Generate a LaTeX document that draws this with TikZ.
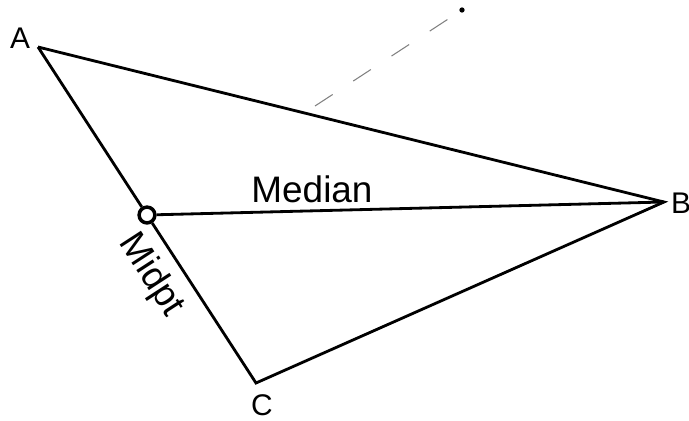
\documentclass[tikz,border=0pt]{standalone}
\usepackage{fontspec}
\setmainfont{Liberation Sans}
\usetikzlibrary{positioning,calc}

\begin{document}
\begin{tikzpicture}[x=0.02cm,y=-0.02cm,
        side/.style={line width=1.6pt,line join=miter},
        vlabel/.style={font=\fontsize{17}{17}\selectfont,inner sep=0pt},
        hand/.style={font=\fontsize{21}{21}\selectfont,inner sep=0pt},
        dot/.style={circle,draw,line width=2pt,minimum size=9pt,inner sep=0pt}]
        \useasboundingbox (0,0) rectangle (689,420);
        % vertices
        \coordinate (A) at (38,47);
        \coordinate (B) at (664,202);
        \coordinate (C) at (256,383);
        \node[dot] (m) at ($(A)!0.5!(C)$) {};
        % labels
        \node[vlabel] (la) at (20,38) {A};
        \node[vlabel] (lb) at (681,203) {B};
        \node[vlabel] (lc) at (262,405) {C};
        \node[hand,anchor=base] (med) at (312,202) {Median};
        \node[hand,rotate=-57] (mp) at (151,275) {Midpt};
        % triangle and median
        \draw[side] (A) -- (B) -- (C) -- (m) -- (A);
        \draw[side] (m) -- (B);
        % faint construction line
        \coordinate (d1) at (315,106);
        \coordinate (d2) at (462,10);
        \draw[gray,line width=0.6pt,dash pattern=on 12pt off 14pt] (d1) -- (d2);
        \fill (d2) circle (1.5pt);
      \end{tikzpicture}
\end{document}
